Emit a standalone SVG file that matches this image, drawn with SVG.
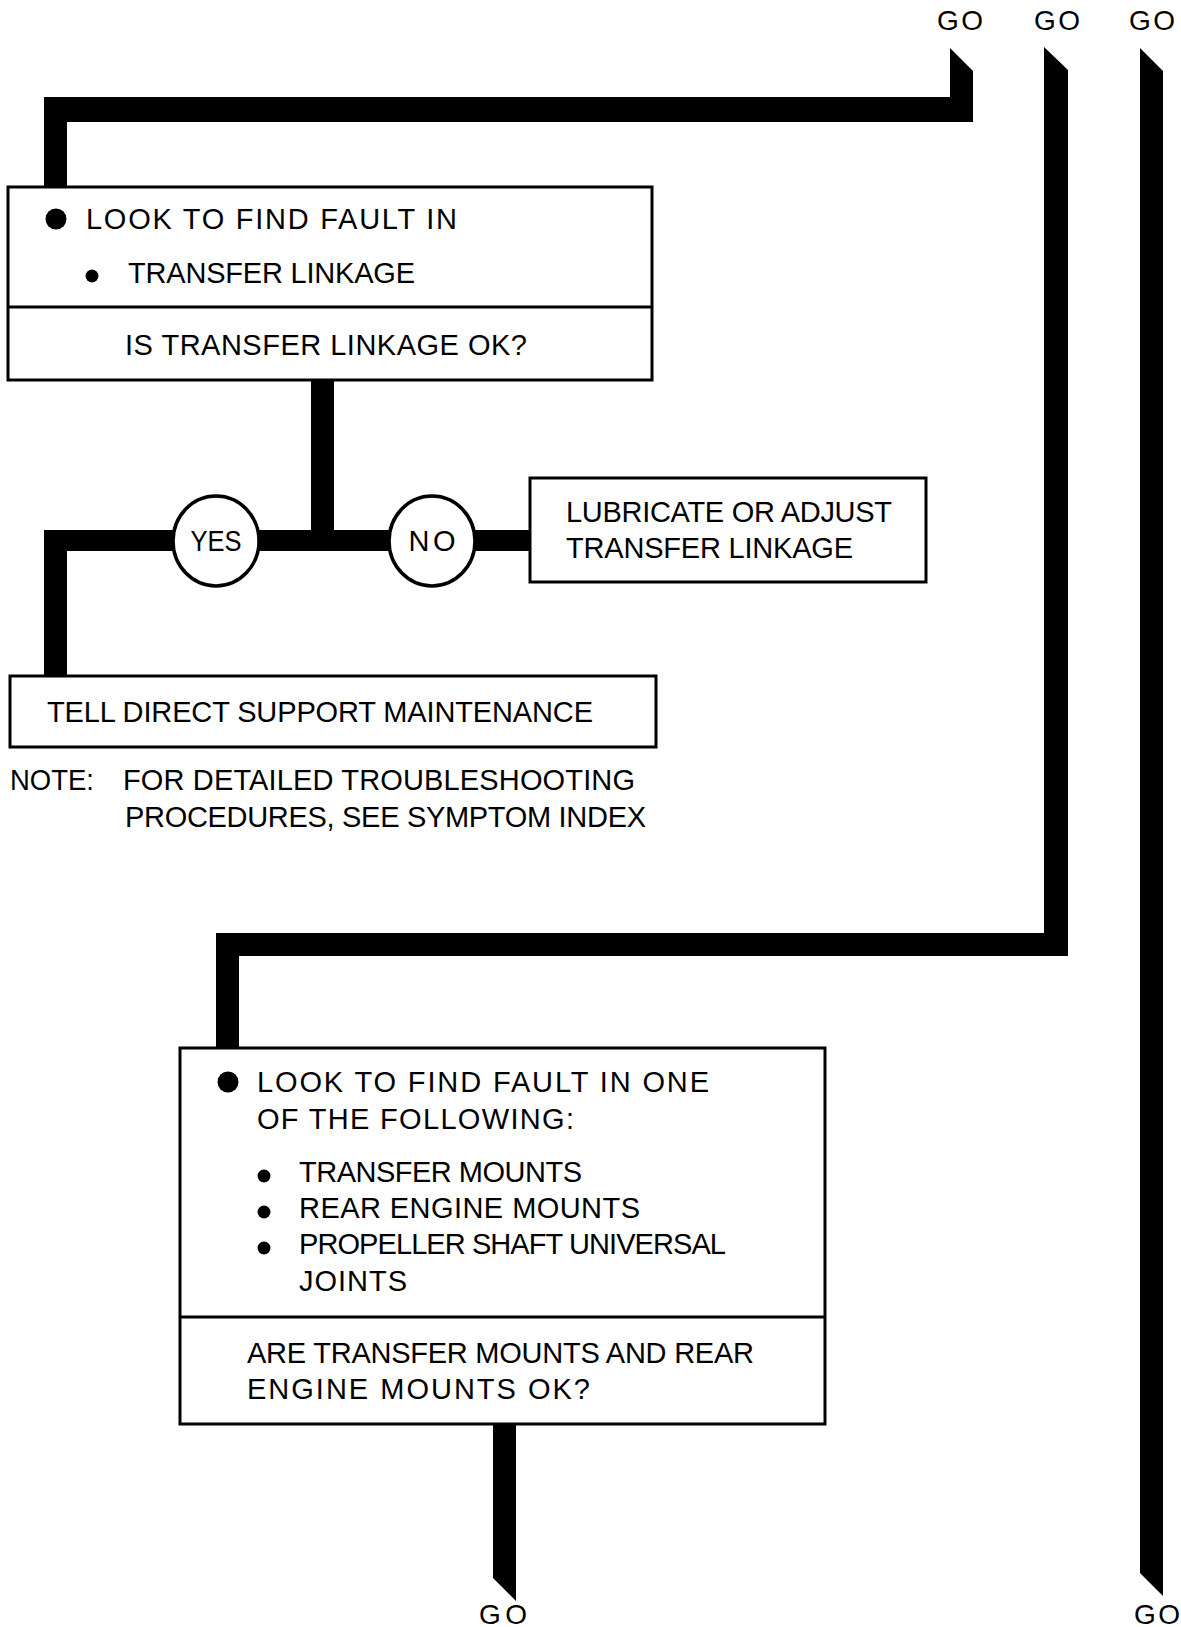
<svg xmlns="http://www.w3.org/2000/svg" width="1181" height="1627" viewBox="0 0 1181 1627">
<style>
.t{font-family:"Liberation Sans",Arial,sans-serif;font-size:29px;fill:#000;}
.go{font-family:"Liberation Sans",Arial,sans-serif;font-size:28px;fill:#000;text-anchor:middle;}
.box{fill:#fff;stroke:#000;stroke-width:3;}
.bar{fill:#000;stroke:none;}
.circ{fill:#fff;stroke:#000;stroke-width:3.5;}
</style>
<rect width="1181" height="1627" fill="#fff"/>
<g id="connectors">
<path class="bar" d="M950,48 L973,71 L973,122 L67,122 L67,188 L44,188 L44,97 L950,97 Z"/>
<path class="bar" d="M1044,47 L1068,70 L1068,956 L239,956 L239,1049 L216,1049 L216,933 L1044,933 Z"/>
<path class="bar" d="M1140,48 L1163,71 L1163,1596 L1140,1573 Z"/>
<rect class="bar" x="311" y="379" width="23" height="160"/>
<rect class="bar" x="44" y="530" width="488" height="21"/>
<rect class="bar" x="44" y="530" width="23" height="147"/>
<path class="bar" d="M493,1423 L516,1423 L516,1601 L493,1578 Z"/>
</g>
<g id="go-labels">
<text class="go" x="960" y="30" textLength="46" lengthAdjust="spacing">GO</text>
<text class="go" x="1057" y="30" textLength="46" lengthAdjust="spacing">GO</text>
<text class="go" x="1152" y="30" textLength="46" lengthAdjust="spacing">GO</text>
<text class="go" x="503" y="1624" textLength="48" lengthAdjust="spacing">GO</text>
<text class="go" x="1157" y="1624" textLength="46" lengthAdjust="spacing">GO</text>
</g>
<g id="node-fault1">
<rect class="box" x="8" y="187" width="644" height="193"/>
<line x1="8" y1="307" x2="652" y2="307" stroke="#000" stroke-width="3"/>
<circle cx="56" cy="219" r="10.5"/>
<text class="t" x="86" y="229" textLength="371" lengthAdjust="spacing">LOOK TO FIND FAULT IN</text>
<circle cx="92" cy="276" r="6.5"/>
<text class="t" x="128" y="283" textLength="287" lengthAdjust="spacing">TRANSFER LINKAGE</text>
<text class="t" x="125" y="355" textLength="402" lengthAdjust="spacing">IS TRANSFER LINKAGE OK?</text>
</g>
<g id="node-yes">
<ellipse class="circ" cx="216" cy="541" rx="43" ry="45"/>
<text class="t" x="216" y="551" text-anchor="middle" textLength="51" lengthAdjust="spacingAndGlyphs">YES</text>
</g>
<g id="node-no">
<ellipse class="circ" cx="432" cy="541" rx="43" ry="45"/>
<text class="t" x="432" y="551" text-anchor="middle" textLength="47" lengthAdjust="spacing">NO</text>
</g>
<g id="node-lubricate">
<rect class="box" x="530" y="478" width="396" height="104"/>
<text class="t" x="566" y="522" textLength="326" lengthAdjust="spacing">LUBRICATE OR ADJUST</text>
<text class="t" x="566" y="558" textLength="287" lengthAdjust="spacing">TRANSFER LINKAGE</text>
</g>
<g id="node-tell">
<rect class="box" x="10" y="676" width="646" height="71"/>
<text class="t" x="47" y="722" textLength="546" lengthAdjust="spacing">TELL DIRECT SUPPORT MAINTENANCE</text>
</g>
<g id="note">
<text class="t" x="10" y="790" textLength="84" lengthAdjust="spacingAndGlyphs">NOTE:</text>
<text class="t" x="123" y="790" textLength="512" lengthAdjust="spacing">FOR DETAILED TROUBLESHOOTING</text>
<text class="t" x="125" y="827" textLength="521" lengthAdjust="spacing">PROCEDURES, SEE SYMPTOM INDEX</text>
</g>
<g id="node-fault2">
<rect class="box" x="180" y="1048" width="645" height="376"/>
<line x1="180" y1="1317" x2="825" y2="1317" stroke="#000" stroke-width="3"/>
<circle cx="228" cy="1082" r="10.5"/>
<text class="t" x="257" y="1092" textLength="452" lengthAdjust="spacing">LOOK TO FIND FAULT IN ONE</text>
<text class="t" x="257" y="1129" textLength="317" lengthAdjust="spacing">OF THE FOLLOWING:</text>
<circle cx="264" cy="1176" r="6.5"/>
<circle cx="264" cy="1212" r="6.5"/>
<circle cx="264" cy="1248" r="6.5"/>
<text class="t" x="299" y="1182" textLength="283" lengthAdjust="spacing">TRANSFER MOUNTS</text>
<text class="t" x="299" y="1218" textLength="341" lengthAdjust="spacing">REAR ENGINE MOUNTS</text>
<text class="t" x="299" y="1254" textLength="427" lengthAdjust="spacing">PROPELLER SHAFT UNIVERSAL</text>
<text class="t" x="299" y="1291" textLength="108" lengthAdjust="spacing">JOINTS</text>
<text class="t" x="247" y="1363" textLength="507" lengthAdjust="spacing">ARE TRANSFER MOUNTS AND REAR</text>
<text class="t" x="247" y="1399" textLength="343" lengthAdjust="spacing">ENGINE MOUNTS OK?</text>
</g>
</svg>
